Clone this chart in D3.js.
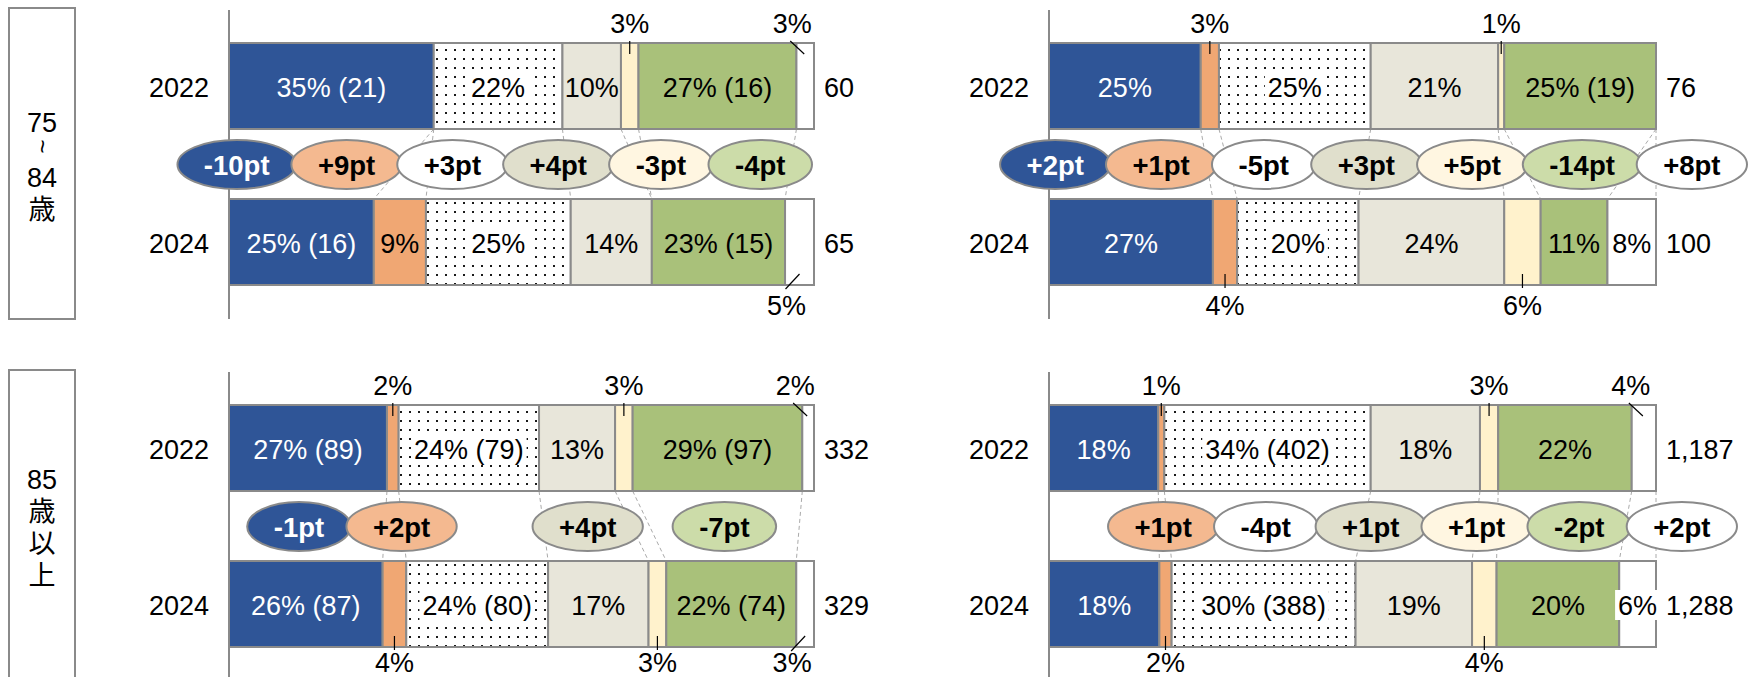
<!DOCTYPE html>
<html>
<head>
<meta charset="utf-8">
<script src="https://cdn.jsdelivr.net/npm/d3@7"></script>
<style>
  body { margin: 0; background: #fff; }
  svg { display: block; }
</style>
</head>
<body>
<script>
// ---- data -------------------------------------------------------------
const years = ['2022', '2024'];
const categoryKeys = ['navy', 'orange', 'dots', 'stone', 'cream', 'green', 'other'];
const ageGroups = [['75', '~', '84', '歳'], ['85', '歳', '以', '上']];

// share in % per category; rows = [2022, 2024]
const pctA75 = [[35, 0, 22, 10, 3, 27, 3], [25, 9, 25, 14, 0, 23, 5]];
const countA75 = [[21, null, null, null, null, 16, null], [16, null, null, null, null, 15, null]];
const totalA75 = [60, 65];

const pctB75 = [[25, 3, 25, 21, 1, 25, 0], [27, 4, 20, 24, 6, 11, 8]];
const countB75 = [[null, null, null, null, null, 19, null], [null, null, null, null, null, null, null]];
const totalB75 = [76, 100];

const pctA85 = [[27, 2, 24, 13, 3, 29, 2], [26, 4, 24, 17, 3, 22, 3]];
const countA85 = [[89, null, 79, null, null, 97, null], [87, null, 80, null, null, 74, null]];
const totalA85 = [332, 329];

const pctB85 = [[18, 1, 34, 18, 3, 22, 4], [18, 2, 30, 19, 4, 20, 6]];
const countB85 = [[null, null, 402, null, null, null, null], [null, null, 388, null, null, null, null]];
const totalB85 = [1187, 1288];

// ---- styles -----------------------------------------------------------
const W = 1748, H = 677;
const FONT = '"Liberation Sans", Arial, "Noto Sans CJK JP", sans-serif';
const GRID = '#8a8a8a';
const barFill = { navy: '#2F5597', orange: '#F0A773', dots: 'url(#dotfill)', stone: '#E8E6DA', cream: '#FFF2CC', green: '#A9C17A', other: '#FFFFFF' };
const bubbleFill = { navy: '#2F5597', orange: '#F4B990', dots: '#FFFFFF', stone: '#E0DFCC', cream: '#FFF6E1', green: '#CCDCA9', other: '#FFFFFF' };

const svg = d3.select('body').append('svg')
  .attr('width', W).attr('height', H)
  .style('font-family', FONT);

const defs = svg.append('defs');
const pat = defs.append('pattern').attr('id', 'dotfill')
  .attr('patternUnits', 'userSpaceOnUse').attr('width', 9).attr('height', 9);
pat.append('rect').attr('width', 9).attr('height', 9).attr('fill', '#fff');
pat.append('rect').attr('x', 4).attr('y', 4).attr('width', 2).attr('height', 2).attr('fill', '#1a1a1a');

const rowOffset = [0, 362];
const columns = [
  { axisX: 229, endX: 814, bubbleMin: 120, bubbleMax: 812, linkEnd: false, compareLast: false },
  { axisX: 1049, endX: 1656, bubbleMin: 900, bubbleMax: W - 1, linkEnd: true, compareLast: true }
];
const panels = [
  { row: 0, col: 0, pct: pctA75, count: countA75, total: totalA75 },
  { row: 0, col: 1, pct: pctB75, count: countB75, total: totalB75 },
  { row: 1, col: 0, pct: pctA85, count: countA85, total: totalA85 },
  { row: 1, col: 1, pct: pctB85, count: countB85, total: totalB85 }
];

const yBand = d3.scaleBand().domain(years).range([43, 285]).paddingInner(0.449);
const BH = Math.round(yBand.bandwidth());
const fmtTotal = d3.format(',');

// text width helper
const probe = svg.append('text').style('font-size', '27px').attr('x', -999).attr('y', -999);
function textWidth(str, weight) {
  probe.style('font-weight', weight || 'normal').text(str);
  return probe.node().getComputedTextLength();
}

// keep bubbles in order and apart, each block centred on the mean of its ideal spots
function packBubbles(items, minX, maxX) {
  const sep = (a, b) => (a.rx + b.rx) * 0.96;
  const blocks = items.map(it => ({ members: [it] }));
  const place = b => {
    const off = [0];
    for (let k = 1; k < b.members.length; k++) off.push(off[k - 1] + sep(b.members[k - 1], b.members[k]));
    let start = d3.mean(b.members, (m, k) => m.ideal - off[k]);
    const first = b.members[0], last = b.members[b.members.length - 1];
    start = Math.min(start, maxX - last.rx - off[off.length - 1]);
    start = Math.max(start, minX + first.rx);
    b.members.forEach((m, k) => { m.x = start + off[k]; });
  };
  blocks.forEach(place);
  let merged = true;
  while (merged) {
    merged = false;
    for (let i = 0; i < blocks.length - 1; i++) {
      const a = blocks[i].members, b = blocks[i + 1].members;
      const la = a[a.length - 1], fb = b[0];
      if (fb.x - la.x < sep(la, fb) - 0.01) {
        blocks.splice(i, 2, { members: a.concat(b) });
        place(blocks[i]);
        merged = true;
        break;
      }
    }
  }
}

// ---- age-group boxes ----------------------------------------------------
ageGroups.forEach((lines, r) => {
  const g = svg.append('g').attr('transform', `translate(0,${rowOffset[r]})`);
  g.append('rect').attr('x', 9).attr('y', 8).attr('width', 66).attr('height', 311)
    .attr('fill', '#fff').attr('stroke', GRID).attr('stroke-width', 2);
  const adv = lines.map(s => s === '~' ? 23 : 32);
  let cursor = 164 - d3.sum(adv) / 2 - 5;
  lines.forEach((s, k) => {
    cursor += adv[k];
    if (s === '~') {
      g.append('text').attr('transform', `translate(42,${cursor - 8}) rotate(90)`)
        .attr('text-anchor', 'middle').attr('dy', '0.32em')
        .style('font-size', '24px').text('~');
    } else {
      g.append('text').attr('x', 42).attr('y', cursor).attr('text-anchor', 'middle')
        .style('font-size', '27px').text(s);
    }
  });
});

// ---- panels -----------------------------------------------------------
panels.forEach(p => {
  const col = columns[p.col];
  const off = rowOffset[p.row];
  const g = svg.append('g').attr('transform', `translate(0,${off})`);
  const top = years.map(y => Math.round(yBand(y)));
  const bottom = top.map(t => t + BH);
  const xs = p.pct.map(vals => d3.scaleLinear().domain([0, d3.sum(vals)]).range([col.axisX, col.endX]));
  const cum = p.pct.map(vals => { let c = 0; return vals.map(v => { const s = c; c += v; return [s, c]; }); });

  // axis
  g.append('line').attr('x1', col.axisX).attr('x2', col.axisX).attr('y1', 10).attr('y2', 319)
    .attr('stroke', GRID).attr('stroke-width', 2);

  // year labels and totals
  years.forEach((y, i) => {
    const cy = top[i] + BH / 2;
    g.append('text').attr('x', col.axisX - 20).attr('y', cy + 11).attr('text-anchor', 'end')
      .style('font-size', '27px').text(y);
    g.append('text').attr('x', col.endX + 10).attr('y', cy + 11)
      .style('font-size', '27px').text(fmtTotal(p.total[i]));
  });

  // dashed links between segment boundaries
  const nLinks = col.linkEnd ? categoryKeys.length : categoryKeys.length - 1;
  for (let k = 0; k < nLinks; k++) {
    g.append('line')
      .attr('x1', xs[0](cum[0][k][1])).attr('y1', bottom[0])
      .attr('x2', xs[1](cum[1][k][1])).attr('y2', top[1])
      .attr('stroke', '#aaaaaa').attr('stroke-width', 1).attr('stroke-dasharray', '4,3');
  }

  // bars
  years.forEach((y, i) => {
    categoryKeys.forEach((key, j) => {
      const v = p.pct[i][j];
      if (v <= 0) return;
      const x0 = xs[i](cum[i][j][0]), x1 = xs[i](cum[i][j][1]);
      g.append('rect').attr('x', x0).attr('y', top[i]).attr('width', x1 - x0).attr('height', BH)
        .attr('fill', barFill[key]).attr('stroke', GRID).attr('stroke-width', 2);
    });
  });

  // bubbles with point change
  const items = [];
  categoryKeys.forEach((key, j) => {
    if (j === categoryKeys.length - 1 && !col.compareLast) return;
    const d = p.pct[1][j] - p.pct[0][j];
    if (d === 0) return;
    const mid = i => (xs[i](cum[i][j][0]) + xs[i](cum[i][j][1])) / 2;
    const label = (d > 0 ? '+' : '-') + Math.abs(d) + 'pt';
    items.push({ key, label, ideal: (mid(0) + mid(1)) / 2, rx: textWidth(label, 'bold') / 2 + 27 });
  });
  packBubbles(items, col.bubbleMin, col.bubbleMax);
  const by = (bottom[0] + top[1]) / 2 + 0.5;
  items.forEach(it => {
    g.append('ellipse').attr('cx', it.x).attr('cy', by).attr('rx', it.rx).attr('ry', 24.5)
      .attr('fill', bubbleFill[it.key]).attr('stroke', GRID).attr('stroke-width', 2);
    g.append('text').attr('x', it.x).attr('y', by + 10).attr('text-anchor', 'middle')
      .style('font-size', '27.5px').style('font-weight', 'bold')
      .attr('fill', it.key === 'navy' ? '#fff' : '#000').text(it.label);
  });

  // segment labels
  years.forEach((y, i) => {
    categoryKeys.forEach((key, j) => {
      const v = p.pct[i][j];
      if (v <= 0) return;
      const n = p.count[i][j];
      const txt = v + '%' + (n != null ? ` (${n})` : '');
      const x0 = xs[i](cum[i][j][0]), x1 = xs[i](cum[i][j][1]);
      const w = x1 - x0, cx = (x0 + x1) / 2, cy = top[i] + BH / 2;
      const tw = textWidth(txt);
      const isLast = j === categoryKeys.length - 1;
      if (w >= tw + 2 || (isLast && v >= 6)) {
        if (key === 'dots' || tw > w - 2) {
          g.append('rect').attr('x', cx - tw / 2 - 3).attr('y', cy - 14)
            .attr('width', tw + 6).attr('height', 30).attr('fill', '#fff');
        }
        g.append('text').attr('x', cx).attr('y', cy + 11).attr('text-anchor', 'middle')
          .style('font-size', '27px').attr('fill', key === 'navy' ? '#fff' : '#000').text(txt);
      } else {
        const lx = isLast ? cx - 13 : cx;
        let seg;
        if (i === 0) {
          seg = isLast ? [cx - 15, top[i] - 2, cx - 1, top[i] + 11] : [cx, top[i] - 2, cx, top[i] + 11];
          g.append('text').attr('x', lx).attr('y', top[i] - 10).attr('text-anchor', 'middle')
            .style('font-size', '27px').text(txt);
        } else {
          seg = isLast ? [cx, bottom[i] - 11, cx - 14, bottom[i] + 4] : [cx, bottom[i] - 11, cx, bottom[i] + 3];
          const baseY = Math.min(bottom[i] + 30, H - 5 - off);
          g.append('text').attr('x', lx).attr('y', baseY).attr('text-anchor', 'middle')
            .style('font-size', '27px').text(txt);
        }
        g.append('line').attr('x1', seg[0]).attr('y1', seg[1]).attr('x2', seg[2]).attr('y2', seg[3])
          .attr('stroke', '#000').attr('stroke-width', 1.2);
      }
    });
  });
});
probe.remove();
</script>
</body>
</html>
